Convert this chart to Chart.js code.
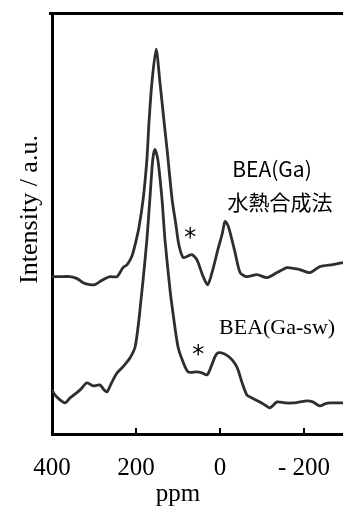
<!DOCTYPE html>
<html>
<head>
<meta charset="utf-8">
<script src="https://cdn.jsdelivr.net/npm/chart.js@4.4.1/dist/chart.umd.min.js"></script>
<style>
  html, body { margin: 0; padding: 0; background: #fff; }
  #wrap { width: 343px; height: 509px; }
</style>
</head>
<body>
<div id="wrap"><canvas id="nmrChart"></canvas></div>
<script>
// x axis ticks (ppm)
const ppmTicks = [400, 200, 0, -200];

// BEA(Ga) hydrothermal (upper trace)
const gaPpm = [400, 381, 357, 340, 326, 310, 298, 286, 274, 262, 245, 231, 221, 210, 202, 193, 183, 174, 169, 162,
  152, 143, 133, 126, 114, 105, 98, 88, 79, 67, 55, 40, 29, 17, 5, -5, -12, -19, -26, -36,
  -48, -64, -88, -112, -136, -160, -190, -214, -238, -269, -293];
const gaIntensity = [157, 157, 157, 155, 151, 149, 149, 152, 155, 157, 157, 166, 169, 177, 189, 206, 234, 274, 311, 351,
  384, 351, 311, 284, 234, 209, 189, 176, 177, 179, 174, 157, 149, 164, 184, 199, 212, 208, 198, 181,
  161, 157, 159, 156, 161, 166, 164, 161, 167, 169, 171];

// BEA(Ga-sw) (lower trace)
const swPpm = [400, 393, 381, 369, 357, 345, 333, 317, 302, 286, 276, 269, 257, 245, 229, 214, 202, 193, 188, 183,
  174, 167, 160, 155, 148, 138, 131, 119, 112, 100, 88, 76, 55, 43, 31, 24, 12, 5, -10, -24,
  -36, -43, -52, -64, -76, -95, -107, -119, -136, -155, -174, -190, -207, -221, -238, -250, -262, -279, -293];
const swIntensity = [44, 39, 34, 31, 36, 40, 44, 51, 48, 49, 44, 42, 52, 61, 68, 76, 87, 114, 134, 154,
  194, 234, 274, 284, 274, 234, 194, 144, 121, 87, 72, 62, 62, 61, 59, 64, 77, 81, 80, 76,
  70, 64, 52, 39, 36, 32, 29, 26, 32, 31, 31, 32, 33, 32, 28, 30, 31, 31, 31];

// annotations placed in data units (ppm, intensity)
const noteTexts = ["BEA(Ga)", "水熱合成法", "BEA(Ga-sw)", "*", "*"];
const notePpm = [-124, -143, -136, 71, 52];
const noteIntensity = [263, 231, 105, 201, 84];
const noteFonts = [
  '21px "Noto Sans CJK JP"',
  '21px "Noto Sans CJK JP"',
  '22px "Liberation Serif"',
  '24px "DejaVu Sans"',
  '24px "DejaVu Sans"'
];

const serif = '"Liberation Serif", "Times New Roman", serif';
const lineColor = "#2e2e2e";

const toPoints = (xs, ys) => xs.map((v, i) => ({ x: v, y: ys[i] }));

function drawCentered(ctx, text, x, y) {
  const m = ctx.measureText(text);
  const h = m.actualBoundingBoxAscent + m.actualBoundingBoxDescent;
  ctx.textAlign = "center";
  ctx.textBaseline = "alphabetic";
  ctx.fillText(text, x, y + h / 2 - m.actualBoundingBoxDescent);
}

const frameAndText = {
  id: "frameAndText",
  afterDraw(c) {
    const { ctx, chartArea: a, scales: { x, y } } = c;
    ctx.save();
    ctx.strokeStyle = "#000";
    ctx.fillStyle = "#000";

    // top frame line
    ctx.lineWidth = 3;
    ctx.beginPath();
    ctx.moveTo(a.left - 3, a.top + 0.5);
    ctx.lineTo(a.right, a.top + 0.5);
    ctx.stroke();

    // inward tick marks
    ctx.lineWidth = 2;
    ppmTicks.forEach(v => {
      const px = Math.round(x.getPixelForValue(v));
      ctx.beginPath();
      ctx.moveTo(px, a.bottom);
      ctx.lineTo(px, a.bottom - 6);
      ctx.stroke();
    });

    // annotations
    noteTexts.forEach((t, i) => {
      ctx.font = noteFonts[i];
      drawCentered(ctx, t, x.getPixelForValue(notePpm[i]), y.getPixelForValue(noteIntensity[i]));
    });

    // axis titles
    ctx.font = "25px " + serif;
    const midX = (x.getPixelForValue(ppmTicks[0]) + x.getPixelForValue(ppmTicks[ppmTicks.length - 1])) / 2;
    ctx.textAlign = "center";
    ctx.textBaseline = "alphabetic";
    ctx.fillText("ppm", midX, a.bottom + 67);

    ctx.font = "26px " + serif;
    ctx.translate(a.left - 22, y.getPixelForValue(224));
    ctx.rotate(-Math.PI / 2);
    ctx.textBaseline = "middle";
    ctx.fillText("Intensity / a.u.", 0, 0);
    ctx.restore();
  }
};

const traceStyle = {
  borderColor: lineColor,
  borderWidth: 2.8,
  pointRadius: 0,
  tension: 0.25,
  fill: false
};

new Chart(document.getElementById("nmrChart"), {
  type: "line",
  data: {
    datasets: [
      { label: "BEA(Ga)", data: toPoints(gaPpm, gaIntensity), ...traceStyle },
      { label: "BEA(Ga-sw)", data: toPoints(swPpm, swIntensity), ...traceStyle }
    ]
  },
  options: {
    responsive: true,
    maintainAspectRatio: false,
    animation: false,
    layout: { padding: { top: 13, right: 0, left: 0, bottom: 0 } },
    plugins: { legend: { display: false }, tooltip: { enabled: false } },
    scales: {
      x: {
        type: "linear",
        reverse: true,
        min: -293,
        max: 400,
        afterBuildTicks: s => { s.ticks = ppmTicks.map(v => ({ value: v })); },
        afterFit: s => { s.height = 75; s.paddingLeft = 0; s.paddingRight = 0; },
        grid: { display: false, drawTicks: false },
        border: { display: true, color: "#000", width: 3 },
        ticks: {
          color: "#000",
          padding: 19,
          maxRotation: 0,
          autoSkip: false,
          font: { family: serif, size: 25 },
          callback: v => (v < 0 ? "- " + Math.abs(v) : String(v))
        }
      },
      y: {
        min: 0,
        max: 420,
        afterFit: s => { s.width = 52; },
        grid: { display: false, drawTicks: false },
        border: { display: true, color: "#000", width: 3 },
        ticks: { display: false }
      }
    }
  },
  plugins: [frameAndText]
});
</script>
</body>
</html>
